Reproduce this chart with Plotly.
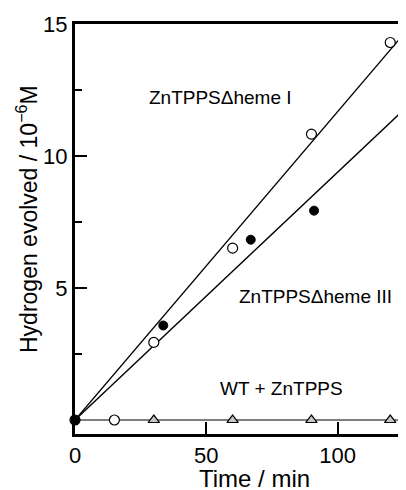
import plotly.graph_objects as go

# Data
heme1_t = [0, 15, 30, 60, 90, 120]
heme1_h = [0, 0, 2.94, 6.51, 10.83, 14.3]

heme3_t = [0, 33.6, 66.9, 91]
heme3_h = [0, 3.58, 6.83, 7.93]

wt_t = [30, 60, 90, 120]
wt_h = [0, 0, 0, 0]

fit_t = [0, 126]
fit1_h = [0, 14.72]
fit3_h = [0, 11.83]
fitwt_h = [0, 0]

x_ticks = [0, 50, 100]
y_ticks = [5, 10, 15]
y_minor = [2.5, 7.5, 12.5]

FONT = "Arial, Liberation Sans, sans-serif"

fig = go.Figure()
for yy, w in [(fit1_h, 1.3), (fit3_h, 1.3), (fitwt_h, 1.1)]:
    fig.add_trace(go.Scatter(x=fit_t, y=yy, mode="lines",
                             line=dict(color="black", width=w),
                             showlegend=False, hoverinfo="skip"))

fig.add_trace(go.Scatter(x=wt_t, y=wt_h, mode="markers", cliponaxis=False,
                         marker=dict(symbol="triangle-up", size=10, color="#c8c8c8",
                                     line=dict(color="black", width=1.2)),
                         showlegend=False))
fig.add_trace(go.Scatter(x=heme1_t, y=heme1_h, mode="markers", cliponaxis=False,
                         marker=dict(symbol="circle", size=10, color="white",
                                     line=dict(color="black", width=1.2)),
                         showlegend=False))
fig.add_trace(go.Scatter(x=heme3_t, y=heme3_h, mode="markers", cliponaxis=False,
                         marker=dict(symbol="circle", size=9, color="black",
                                     line=dict(color="black", width=1)),
                         showlegend=False))

fig.update_layout(
    width=398, height=482,
    margin=dict(l=67, r=0, t=16, b=56),
    plot_bgcolor="white", paper_bgcolor="white",
    font=dict(family=FONT, color="black"),
    xaxis=dict(range=[0, 126], tickvals=x_ticks, ticks="inside", ticklen=12,
               tickwidth=1.5, tickcolor="black", showline=True, linewidth=3,
               linecolor="black", mirror=True, showgrid=False, zeroline=False,
               tickfont=dict(size=22, family=FONT)),
    yaxis=dict(range=[-0.53, 15], tickvals=y_ticks, ticks="inside", ticklen=12,
               tickwidth=1.5, tickcolor="black", showline=True, linewidth=3,
               linecolor="black", showgrid=False, zeroline=False,
               tickfont=dict(size=22, family=FONT),
               minor=dict(tickvals=y_minor, ticks="inside", ticklen=7,
                          tickwidth=1.5, tickcolor="black")),
    annotations=[
        dict(x=55.2, y=12.2, xref="x", yref="y", text="ZnTPPS\u0394heme I",
             showarrow=False, font=dict(size=19, family=FONT)),
        dict(x=91.7, y=4.68, xref="x", yref="y", text="ZnTPPS\u0394heme III",
             showarrow=False, font=dict(size=19, family=FONT)),
        dict(x=78.7, y=1.21, xref="x", yref="y", text="WT + ZnTPPS",
             showarrow=False, font=dict(size=19, family=FONT)),
        dict(x=(254.7 - 75) / 331, y=(434 - 478) / 410, xref="paper", yref="paper",
             text="Time / min", showarrow=False, xanchor="center", yanchor="middle",
             font=dict(size=24, family=FONT)),
        dict(x=(27 - 75) / 331, y=(434 - 219) / 410, xref="paper", yref="paper",
             text="Hydrogen evolved / 10<sup>\u22126</sup>M", textangle=-90,
             xanchor="center", yanchor="middle",
             showarrow=False, font=dict(size=23, family=FONT)),
    ],
)

fig.write_html("out.html")
